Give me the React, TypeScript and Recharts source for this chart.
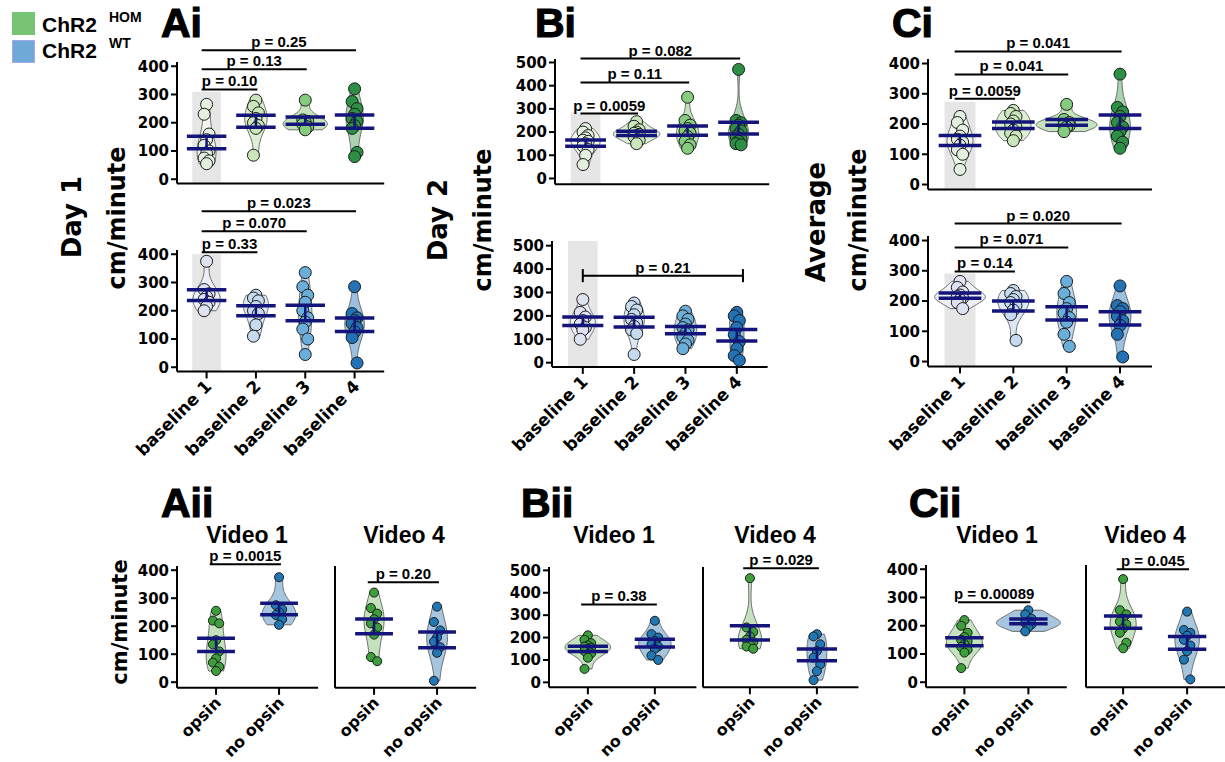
import React from "react";
import { ScatterChart, Scatter, XAxis, YAxis, ReferenceLine, ReferenceArea } from "recharts";

const BASELINES = ["baseline 1", "baseline 2", "baseline 3", "baseline 4"];
const VIDEO_GROUPS = ["opsin", "no opsin"];

// cm/minute per animal, one list per baseline session
const day1Hom = [
  [265, 230, 160, 140, 120, 100, 90, 75, 65, 55],
  [280, 258, 235, 215, 200, 190, 180, 85],
  [280, 210, 205, 200, 195, 185, 175],
  [320, 275, 250, 230, 215, 205, 190, 180, 95, 80],
];
const day1Wt = [
  [375, 275, 260, 250, 240, 230, 215, 200],
  [255, 245, 235, 215, 200, 190, 150, 110],
  [335, 285, 255, 230, 200, 175, 160, 135, 100, 45],
  [285, 190, 175, 165, 155, 140, 125, 105, 15],
];
const day2Hom = [
  [215, 200, 185, 175, 165, 160, 150, 140, 125, 100, 60],
  [245, 225, 210, 200, 195, 190, 185, 180, 165, 150],
  [350, 250, 230, 215, 205, 195, 180, 160, 145, 130],
  [470, 250, 240, 230, 215, 205, 190, 180, 170, 160, 150, 145],
];
const day2Wt = [
  [270, 215, 195, 180, 165, 150, 140, 100],
  [255, 240, 225, 205, 185, 170, 155, 140, 125, 35],
  [220, 200, 185, 165, 150, 140, 125, 110, 95, 80, 60],
  [215, 200, 180, 150, 120, 90, 60, 30, 10],
];
const avgHom = [
  [225, 205, 180, 160, 150, 140, 130, 115, 100, 50],
  [245, 235, 225, 210, 200, 190, 180, 170, 160, 145],
  [265, 215, 205, 200, 198, 195, 190, 175],
  [365, 255, 240, 225, 205, 190, 175, 160, 140, 120],
];
const avgWt = [
  [265, 245, 230, 220, 215, 210, 205, 195, 175],
  [235, 225, 215, 205, 195, 185, 170, 155, 70],
  [265, 225, 195, 175, 160, 145, 130, 90, 50],
  [250, 185, 175, 165, 150, 135, 120, 90, 15],
];

// video comparisons: [opsin, no opsin]
const aiiVideo1 = [
  [255, 220, 210, 150, 135, 110, 85, 70, 55, 40],
  [375, 275, 260, 250, 240, 225, 205],
];
const aiiVideo4 = [
  [320, 265, 245, 225, 210, 195, 170, 90, 75],
  [270, 215, 185, 160, 145, 125, 105, 5],
];
const biiVideo1 = [
  [210, 190, 175, 165, 160, 155, 150, 140, 130, 110, 60],
  [275, 215, 200, 185, 170, 160, 150, 120, 100],
];
const biiVideo4 = [
  [465, 245, 225, 205, 190, 180, 170, 160, 150],
  [215, 205, 170, 140, 110, 80, 50, 10],
];
const ciiVideo1 = [
  [220, 200, 175, 160, 150, 145, 135, 125, 115, 105, 50],
  [255, 240, 225, 215, 210, 205, 195, 180],
];
const ciiVideo4 = [
  [365, 255, 240, 225, 215, 205, 190, 175, 140, 120],
  [250, 185, 175, 165, 150, 130, 110, 80, 10],
];

// comparisons vs baseline 1 / opsin
const day1HomP = [
  { from: 0, to: 1, at: 318, text: "p = 0.10" },
  { from: 0, to: 2, at: 389, text: "p = 0.13" },
  { from: 0, to: 3, at: 457, text: "p = 0.25" },
];
const day1WtP = [
  { from: 0, to: 1, at: 407, text: "p = 0.33" },
  { from: 0, to: 2, at: 481, text: "p = 0.070" },
  { from: 0, to: 3, at: 552, text: "p = 0.023" },
];
const day2HomP = [
  { from: 0, to: 1, at: 280, text: "p = 0.0059" },
  { from: 0, to: 2, at: 414, text: "p = 0.11" },
  { from: 0, to: 3, at: 517, text: "p = 0.082" },
];
const day2WtP = [{ from: 0, to: 3, at: 372, text: "p = 0.21", caps: true }];
const avgHomP = [
  { from: 0, to: 1, at: 284, text: "p = 0.0059" },
  { from: 0, to: 2, at: 364, text: "p = 0.041" },
  { from: 0, to: 3, at: 440, text: "p = 0.041" },
];
const avgWtP = [
  { from: 0, to: 1, at: 298, text: "p = 0.14" },
  { from: 0, to: 2, at: 377, text: "p = 0.071" },
  { from: 0, to: 3, at: 456, text: "p = 0.020" },
];
const aiiV1P = [{ from: 0, to: 1, at: 421, text: "p = 0.0015" }];
const aiiV4P = [{ from: 0, to: 1, at: 357, text: "p = 0.20" }];
const biiV1P = [{ from: 0, to: 1, at: 348, text: "p = 0.38" }];
const biiV4P = [{ from: 0, to: 1, at: 509, text: "p = 0.029" }];
const ciiV1P = [{ from: 0, to: 1, at: 283, text: "p = 0.00089" }];
const ciiV4P = [{ from: 0, to: 1, at: 400, text: "p = 0.045" }];

const T400 = [0, 100, 200, 300, 400];
const T500 = [0, 100, 200, 300, 400, 500];

const HOM_PTS = ["#e4efdf", "#c9e7ba", "#86cc7f", "#2c8f45"];
const HOM_VIO = ["#f1f7ee", "#dcefd2", "#c3e3bb", "#a9d2ae"];
const WT_PTS = ["#dfe2f1", "#c6dbef", "#6aaed9", "#2372b5"];
const WT_VIO = ["#eceef8", "#dce9f5", "#bcd7ee", "#9cc1e0"];
const VID_PTS = ["#3c9f3c", "#1f77b4"];
const VID_VIO = ["#c5e2be", "#a6c6e0"];
const NAVY = "#14157a";

const FONT_TICK = "DejaVu Sans, sans-serif";
const FONT_TEXT = "Liberation Sans, Arial, Helvetica, sans-serif";

const VIOLIN_K = 36;
const JITTER = [0, -0.05, 0.05];

type Bracket = { from: number; to: number; at: number; text: string; caps?: boolean };

type PanelCfg = {
  groups: number[][];
  cats: string[];
  pts: string[];
  vio: string[];
  brackets: Bracket[];
  catPx: [number, number];
  xDomain: [number, number];
  zeroPx: number;
  topPx: number;
  yTicks: number[];
  yDomain: [number, number];
  shade?: number;
  yLabels: boolean;
  xLabels: boolean;
  r: number;
  barHalf: number;
  catFont: number;
};

function meanSem(vals: number[]) {
  const n = vals.length;
  const m = vals.reduce((a, b) => a + b, 0) / n;
  const sd = Math.sqrt(vals.reduce((a, v) => a + (v - m) * (v - m), 0) / (n - 1));
  return { m, sd, s: sd / Math.sqrt(n) };
}

// trimmed gaussian kde outline, mirrored around the category
function violinOutline(vals: number[], idx: number) {
  const n = vals.length;
  const { sd } = meanSem(vals);
  const h = 1.06 * sd * Math.pow(n, -0.2);
  const lo = Math.min(...vals);
  const hi = Math.max(...vals);
  const steps = 40;
  const right: { x: number; y: number }[] = [];
  for (let s = 0; s <= steps; s++) {
    const y = lo + ((hi - lo) * s) / steps;
    let d = 0;
    for (const v of vals) {
      const z = (y - v) / h;
      d += Math.exp(-0.5 * z * z);
    }
    d = d / (n * h * Math.sqrt(2 * Math.PI));
    right.push({ x: idx + VIOLIN_K * d, y });
  }
  const left = right.map((p) => ({ x: 2 * idx - p.x, y: p.y })).reverse();
  return [...right, ...left];
}

const noDot = () => <g />;

const polygon = (fill: string, stroke: string) => (props: any) => {
  const pts = props.points || [];
  if (!pts.length) return <g />;
  const d = pts.map((p: any, i: number) => `${i ? "L" : "M"}${p.x},${p.y}`).join("") + "Z";
  return <path d={d} fill={fill} stroke={stroke} strokeWidth={1} />;
};

const pairs = (stroke: string, widths: number[]) => (props: any) => {
  const pts = props.points || [];
  const segs = [];
  for (let i = 0; i + 1 < pts.length; i += 2) {
    segs.push(
      <line
        key={i}
        x1={pts[i].x}
        y1={pts[i].y}
        x2={pts[i + 1].x}
        y2={pts[i + 1].y}
        stroke={stroke}
        strokeWidth={widths[i / 2] ?? widths[0]}
      />
    );
  }
  return <g>{segs}</g>;
};

const dot = (fill: string, r: number) => (p: any) => (
  <circle cx={p.cx} cy={p.cy} r={r} fill={fill} stroke="#1b1b1b" strokeWidth={1} />
);

function CatTick(props: any) {
  const { x, y, payload, names, size } = props;
  const ax = x + 6;
  const ay = y + 7;
  return (
    <text
      x={ax}
      y={ay}
      transform={`rotate(-45 ${ax} ${ay})`}
      textAnchor="end"
      fontSize={size}
      fontWeight={700}
      fontFamily={FONT_TICK}
      fill="#000"
    >
      {names[Math.round(payload.value)]}
    </text>
  );
}

function ViolinPanel({ cfg }: { cfg: PanelCfg }) {
  const step = (cfg.catPx[1] - cfg.catPx[0]) / (cfg.cats.length - 1);
  const plotLeft = cfg.catPx[0] + cfg.xDomain[0] * step;
  const plotWidth = (cfg.xDomain[1] - cfg.xDomain[0]) * step;
  const topTick = cfg.yTicks[cfg.yTicks.length - 1];
  const ppu = (cfg.zeroPx - cfg.topPx) / topTick;
  const plotTop = cfg.zeroPx - cfg.yDomain[1] * ppu;
  const plotHeight = (cfg.yDomain[1] - cfg.yDomain[0]) * ppu;
  const MT = 90;
  const MR = 4;
  const YW = 52;
  const XH = cfg.xLabels ? 110 : 14;
  const axisStyle = { stroke: "#000", strokeWidth: 2 };

  return (
    <div style={{ position: "absolute", left: plotLeft - YW, top: plotTop - MT }}>
      <ScatterChart
        width={YW + plotWidth + MR}
        height={MT + plotHeight + XH}
        margin={{ top: MT, right: MR, bottom: 0, left: 0 }}
      >
        <XAxis
          type="number"
          dataKey="x"
          domain={cfg.xDomain}
          ticks={cfg.cats.map((_, i) => i)}
          allowDataOverflow
          interval={0}
          height={XH}
          axisLine={axisStyle}
          tickLine={axisStyle}
          tickSize={7}
          tick={
            cfg.xLabels
              ? (p: any) => <CatTick {...p} names={cfg.cats} size={cfg.catFont} />
              : false
          }
        />
        <YAxis
          type="number"
          dataKey="y"
          domain={cfg.yDomain}
          ticks={cfg.yTicks}
          allowDataOverflow
          interval={0}
          width={YW}
          axisLine={axisStyle}
          tickLine={axisStyle}
          tickSize={6}
          tickMargin={2}
          tick={
            cfg.yLabels
              ? { fill: "#000", fontSize: 15, fontWeight: 700, fontFamily: FONT_TICK }
              : false
          }
        />
        {cfg.shade !== undefined && (
          <ReferenceArea
            x1={-0.29}
            x2={0.29}
            y1={cfg.yDomain[0]}
            y2={cfg.shade}
            fill="#e6e6e6"
            fillOpacity={1}
            stroke="none"
            ifOverflow="visible"
          />
        )}
        {cfg.brackets.map((b, i) => (
          <ReferenceLine
            key={`b${i}`}
            segment={[
              { x: b.from - (b.caps ? 0 : 0.1), y: b.at },
              { x: b.to + (b.caps ? 0.12 : 0.03), y: b.at },
            ]}
            stroke="#000"
            strokeWidth={2}
            ifOverflow="visible"
            label={{
              value: b.text,
              position: "top",
              offset: 3,
              fill: "#000",
              fontSize: 15,
              fontWeight: 700,
              fontFamily: FONT_TEXT,
            }}
          />
        ))}
        {cfg.brackets
          .filter((b) => b.caps)
          .flatMap((b, i) => [
            <ReferenceLine
              key={`c${i}a`}
              segment={[
                { x: b.from, y: b.at - 28 },
                { x: b.from, y: b.at + 28 },
              ]}
              stroke="#000"
              strokeWidth={2}
              ifOverflow="visible"
            />,
            <ReferenceLine
              key={`c${i}b`}
              segment={[
                { x: b.to + 0.12, y: b.at - 28 },
                { x: b.to + 0.12, y: b.at + 28 },
              ]}
              stroke="#000"
              strokeWidth={2}
              ifOverflow="visible"
            />,
          ])}
        {cfg.groups.map((vals, i) => (
          <Scatter
            key={`v${i}`}
            data={violinOutline(vals, i)}
            shape={noDot}
            line={polygon(cfg.vio[i], "#6b6b6b")}
            isAnimationActive={false}
          />
        ))}
        {cfg.groups.map((vals, i) => (
          <Scatter
            key={`p${i}`}
            data={vals.map((v, k) => ({ x: i + JITTER[k % 3], y: v }))}
            shape={dot(cfg.pts[i], cfg.r)}
            isAnimationActive={false}
          />
        ))}
        {cfg.groups.map((vals, i) => {
          const { m, s } = meanSem(vals);
          const w = cfg.barHalf;
          return (
            <Scatter
              key={`e${i}`}
              data={[
                { x: i - w, y: m + s },
                { x: i + w, y: m + s },
                { x: i - w, y: m - s },
                { x: i + w, y: m - s },
                { x: i, y: m + s },
                { x: i, y: m - s },
              ]}
              shape={noDot}
              line={pairs(NAVY, [3.5, 3.5, 2.5])}
              isAnimationActive={false}
            />
          );
        })}
      </ScatterChart>
    </div>
  );
}

const topBase = { cats: BASELINES, xDomain: [-0.6, 3.6] as [number, number], r: 6, barHalf: 0.4, catFont: 17, yLabels: true };
const vidBase = { cats: VIDEO_GROUPS, pts: VID_PTS, vio: VID_VIO, r: 4.5, barHalf: 0.3, catFont: 16, xLabels: true };

const panels: PanelCfg[] = [
  { ...topBase, groups: day1Hom, pts: HOM_PTS, vio: HOM_VIO, brackets: day1HomP, catPx: [207, 355], zeroPx: 179, topPx: 66, yTicks: T400, yDomain: [-15, 415], shade: 310, xLabels: false },
  { ...topBase, groups: day1Wt, pts: WT_PTS, vio: WT_VIO, brackets: day1WtP, catPx: [207, 355], zeroPx: 367, topPx: 254, yTicks: T400, yDomain: [-15, 415], shade: 400, xLabels: true },
  { ...topBase, groups: day2Hom, pts: HOM_PTS, vio: HOM_VIO, brackets: day2HomP, catPx: [586, 739], zeroPx: 178, topPx: 62, yTicks: T500, yDomain: [-25, 515], shade: 284, xLabels: false },
  { ...topBase, groups: day2Wt, pts: WT_PTS, vio: WT_VIO, brackets: day2WtP, catPx: [583, 737], zeroPx: 363, topPx: 246, yTicks: T500, yDomain: [-18, 520], shade: 520, xLabels: true },
  { ...topBase, groups: avgHom, pts: HOM_PTS, vio: HOM_VIO, brackets: avgHomP, catPx: [960, 1120], zeroPx: 185, topPx: 64, yTicks: T400, yDomain: [-16, 415], shade: 274, xLabels: false },
  { ...topBase, groups: avgWt, pts: WT_PTS, vio: WT_VIO, brackets: avgWtP, catPx: [960, 1120], zeroPx: 362, topPx: 241, yTicks: T400, yDomain: [-16, 415], shade: 291, xLabels: true },
  { ...vidBase, groups: aiiVideo1, brackets: aiiV1P, catPx: [216, 279], xDomain: [-0.62, 1.62], zeroPx: 682, topPx: 570, yTicks: T400, yDomain: [-20, 415], yLabels: true },
  { ...vidBase, groups: aiiVideo4, brackets: aiiV4P, catPx: [374, 437], xDomain: [-0.62, 1.62], zeroPx: 682, topPx: 570, yTicks: T400, yDomain: [-20, 415], yLabels: false },
  { ...vidBase, groups: biiVideo1, brackets: biiV1P, catPx: [588, 655], xDomain: [-0.58, 1.62], zeroPx: 682, topPx: 570, yTicks: T500, yDomain: [-22, 515], yLabels: true },
  { ...vidBase, groups: biiVideo4, brackets: biiV4P, catPx: [750, 817], xDomain: [-0.7, 1.62], zeroPx: 682, topPx: 570, yTicks: T500, yDomain: [-22, 515], yLabels: false },
  { ...vidBase, groups: ciiVideo1, brackets: ciiV1P, catPx: [964, 1028], xDomain: [-0.6, 1.6], zeroPx: 682, topPx: 569, yTicks: T400, yDomain: [-18, 415], yLabels: true },
  { ...vidBase, groups: ciiVideo4, brackets: ciiV4P, catPx: [1123, 1187], xDomain: [-0.58, 1.6], zeroPx: 682, topPx: 569, yTicks: T400, yDomain: [-18, 415], yLabels: false },
];

function Rotated({ x, y, size, children }: { x: number; y: number; size: number; children: string }) {
  return (
    <text
      x={x}
      y={y}
      transform={`rotate(-90 ${x} ${y})`}
      textAnchor="middle"
      dominantBaseline="central"
      fontSize={size}
      fontWeight={700}
      fontFamily={FONT_TICK}
      fill="#000"
    >
      {children}
    </text>
  );
}

function Overlay() {
  const big = { fontSize: 41, fontWeight: 700, fontFamily: FONT_TEXT, fill: "#000", stroke: "#000", strokeWidth: 1.2 };
  const title = { fontSize: 23, fontWeight: 700, fontFamily: FONT_TEXT, fill: "#000", textAnchor: "middle" as const };
  return (
    <svg width={1225} height={762} style={{ position: "absolute", left: 0, top: 0, pointerEvents: "none" }}>
      <rect x={12} y={12} width={23} height={23} fill="#78c475" />
      <rect x={12.5} y={40.5} width={22} height={22} fill="#6fa9d8" stroke="#a6a6ee" />
      <text x={42} y={32} fontSize={21} fontWeight={700} fontFamily={FONT_TEXT}>ChR2</text>
      <text x={109} y={22} fontSize={14} fontWeight={700} fontFamily={FONT_TEXT}>HOM</text>
      <text x={42} y={58} fontSize={21} fontWeight={700} fontFamily={FONT_TEXT}>ChR2</text>
      <text x={109} y={48} fontSize={14} fontWeight={700} fontFamily={FONT_TEXT}>WT</text>

      <text x={161} y={37} {...big}>Ai</text>
      <text x={535} y={37} {...big}>Bi</text>
      <text x={892} y={37} {...big}>Ci</text>
      <text x={161} y={517} {...big}>Aii</text>
      <text x={521} y={517} {...big}>Bii</text>
      <text x={909} y={517} {...big}>Cii</text>

      <Rotated x={72} y={217} size={26}>Day 1</Rotated>
      <Rotated x={117} y={218} size={24}>cm/minute</Rotated>
      <Rotated x={438} y={220} size={26}>Day 2</Rotated>
      <Rotated x={483} y={220} size={24}>cm/minute</Rotated>
      <Rotated x={816} y={222} size={26}>Average</Rotated>
      <Rotated x={858} y={220} size={24}>cm/minute</Rotated>
      <Rotated x={120} y={622} size={21}>cm/minute</Rotated>

      <text x={247} y={543} {...title}>Video 1</text>
      <text x={404} y={543} {...title}>Video 4</text>
      <text x={614} y={543} {...title}>Video 1</text>
      <text x={775} y={543} {...title}>Video 4</text>
      <text x={997} y={543} {...title}>Video 1</text>
      <text x={1145} y={543} {...title}>Video 4</text>
    </svg>
  );
}

export default function App() {
  return (
    <div
      style={{
        position: "absolute",
        left: 0,
        top: 0,
        width: 1225,
        height: 762,
        background: "#fff",
        overflow: "hidden",
      }}
    >
      {panels.map((cfg, i) => (
        <ViolinPanel key={i} cfg={cfg} />
      ))}
      <Overlay />
    </div>
  );
}
